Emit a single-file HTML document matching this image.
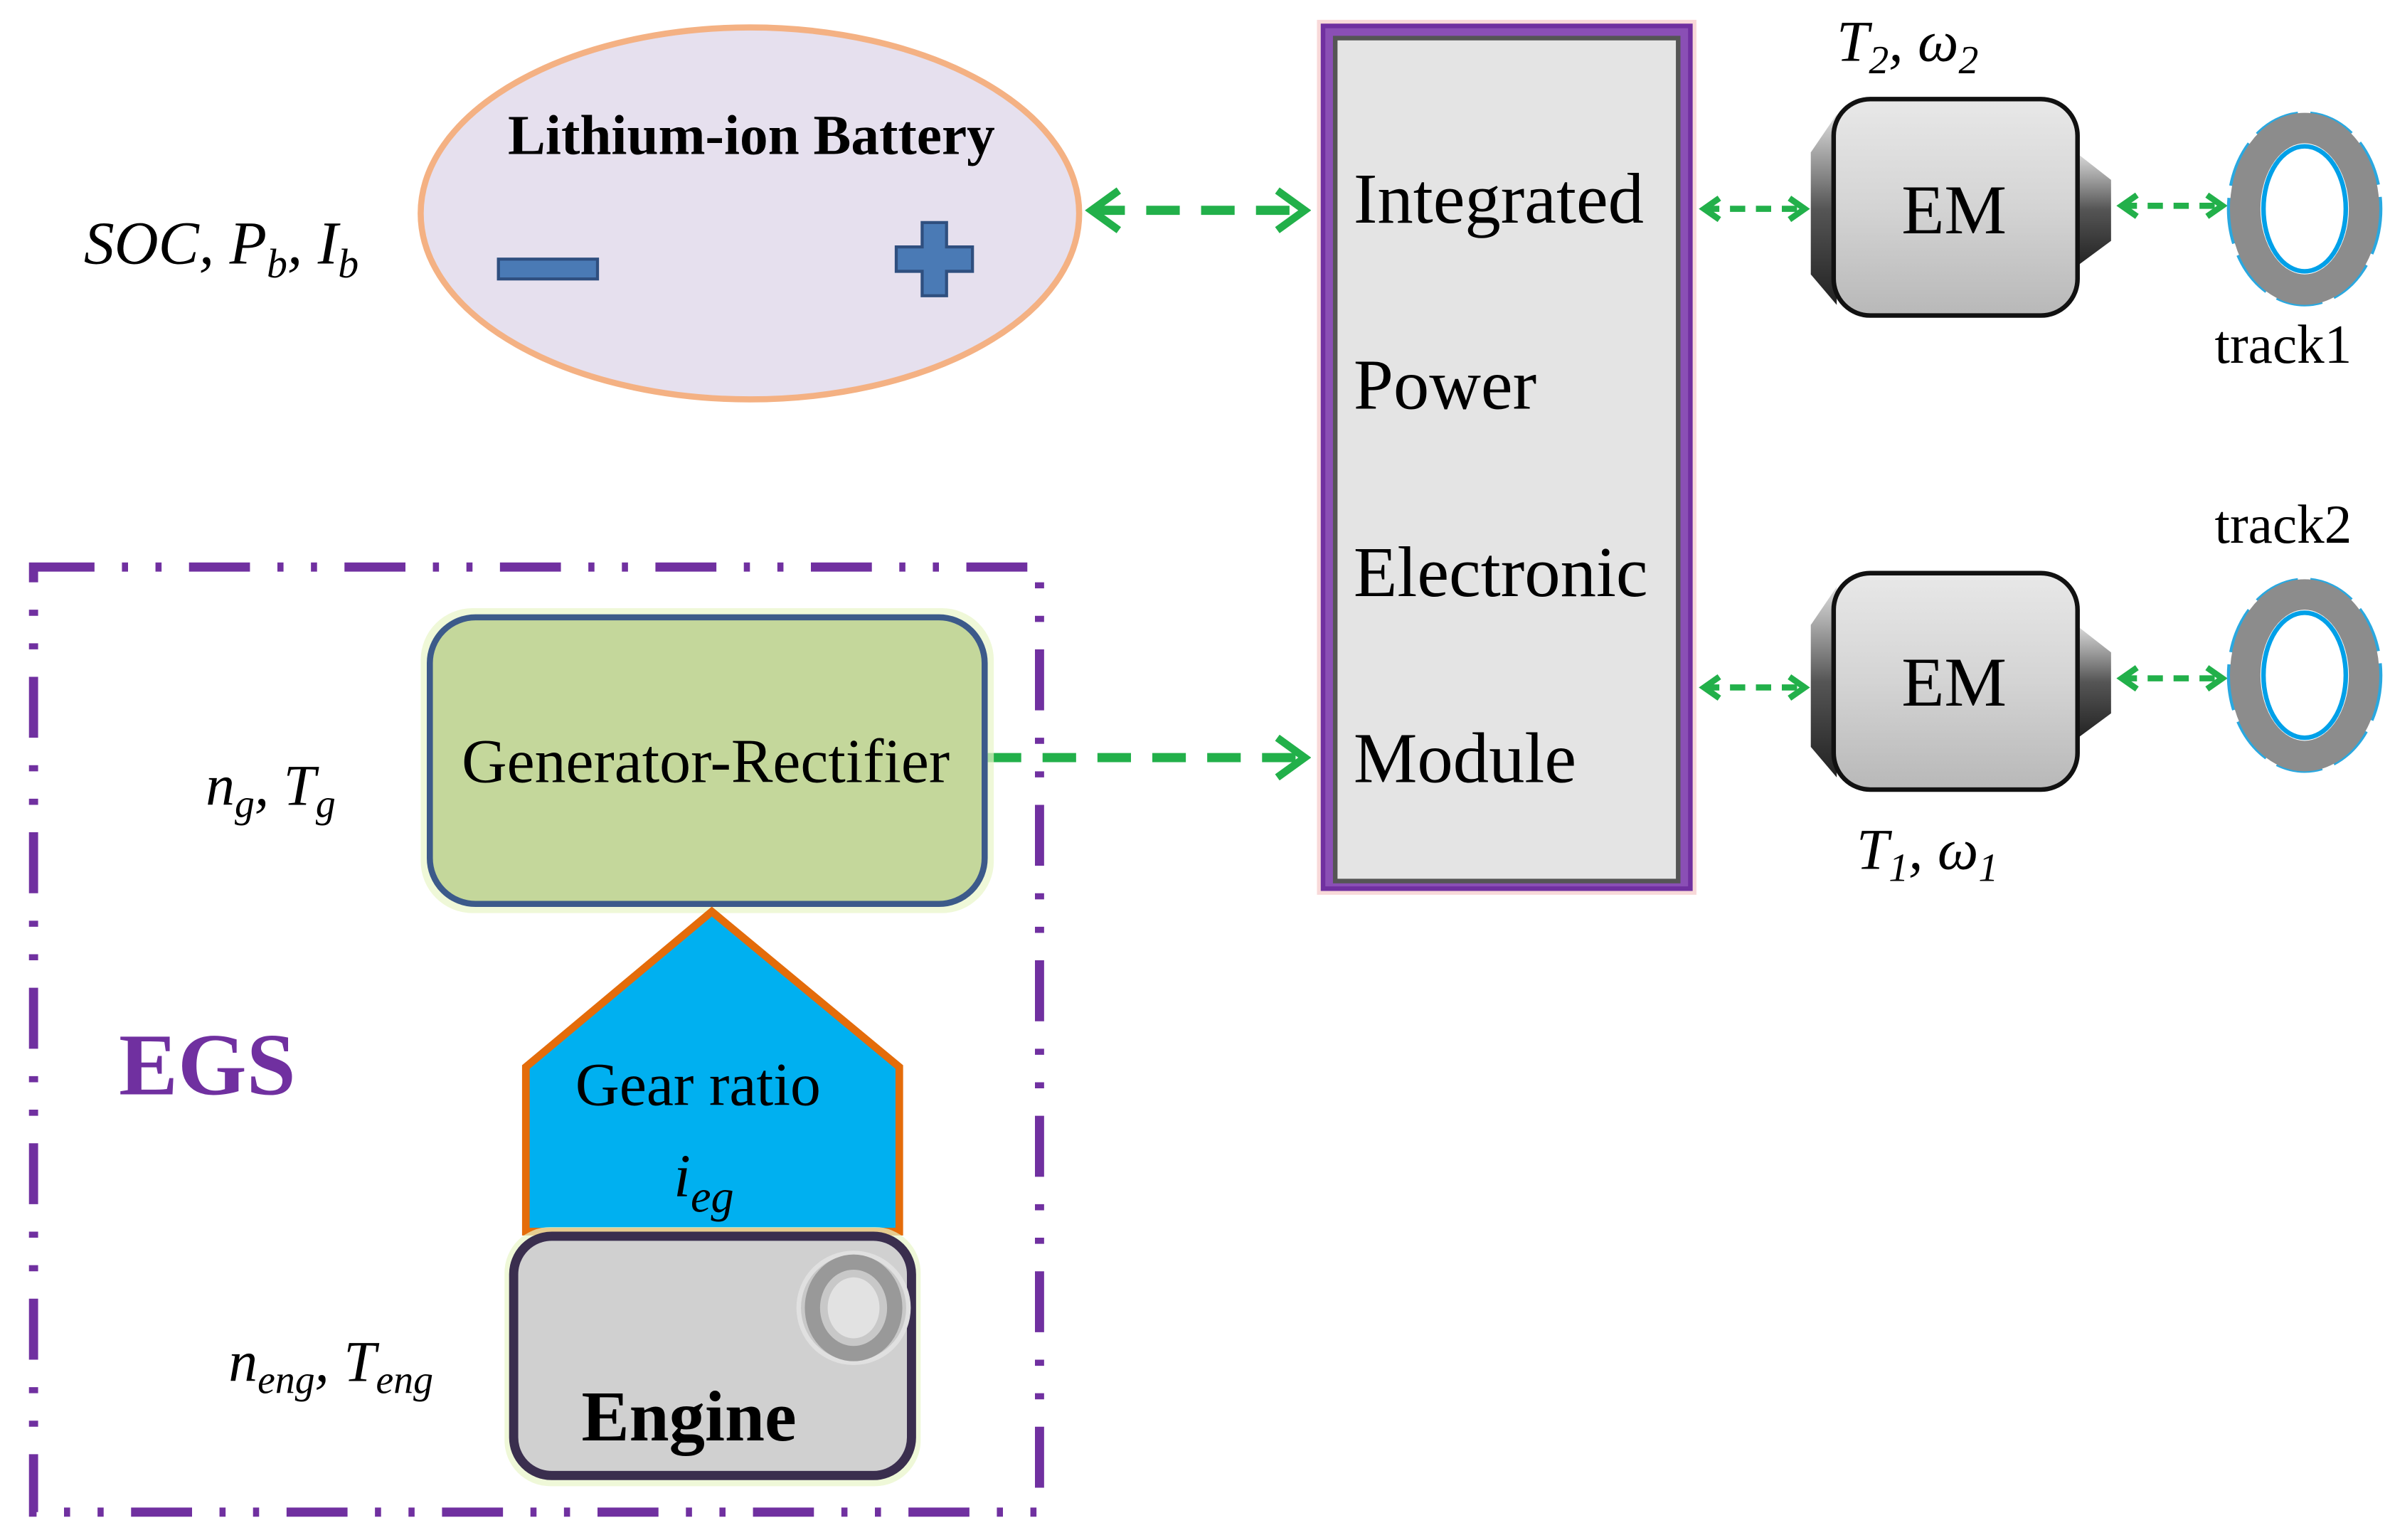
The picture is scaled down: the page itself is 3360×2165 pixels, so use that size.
<!DOCTYPE html>
<html><head><meta charset="utf-8"><style>
html,body{margin:0;padding:0;background:#fff;}
svg{display:block;width:3360px;height:2165px;}
text{font-family:"Liberation Serif",serif;}
</style></head><body>
<svg viewBox="0 0 1568 1010.3" preserveAspectRatio="none" xmlns="http://www.w3.org/2000/svg">
<defs>
<marker id="ah" markerWidth="16" markerHeight="18" refX="12" refY="9" orient="auto-start-reverse" markerUnits="userSpaceOnUse">
<path d="M2,2 L12,9 L2,16" fill="none" stroke="#22b04a" stroke-width="4"/>
</marker>
<marker id="ahB" markerWidth="24" markerHeight="30" refX="20" refY="15" orient="auto-start-reverse" markerUnits="userSpaceOnUse">
<path d="M2,2 L20,15 L2,28" fill="none" stroke="#22b04a" stroke-width="5"/>
</marker>
<linearGradient id="emg" x1="0" y1="0" x2="0" y2="1">
<stop offset="0" stop-color="#e8e8e8"/><stop offset="0.5" stop-color="#d4d4d4"/><stop offset="1" stop-color="#b8b8b8"/>
</linearGradient>
<linearGradient id="cone" x1="0" y1="0" x2="0" y2="1">
<stop offset="0" stop-color="#ddd"/><stop offset="0.5" stop-color="#555"/><stop offset="1" stop-color="#222"/>
</linearGradient>
</defs>

<ellipse cx="492" cy="140" rx="216" ry="122" fill="#e6e0ee" stroke="#f4b183" stroke-width="4"/>
<text x="493" y="101" font-size="37" font-weight="bold" text-anchor="middle">Lithium-ion  Battery</text>
<rect x="327" y="170" width="65" height="13" fill="#4a7ab5" stroke="#2f4f7f" stroke-width="2"/>
<path d="M605,146 h16 v16 h17 v16 h-17 v16 h-16 v-16 h-17 v-16 h17 z" fill="#4a7ab5" stroke="#2f4f7f" stroke-width="2"/>
<text x="55" y="173" font-size="40" font-style="italic">SOC, P<tspan font-size="27" dy="9">b</tspan><tspan dy="-9">, I</tspan><tspan font-size="27" dy="9">b</tspan></text>

<line x1="716" y1="138" x2="856" y2="138" stroke="#22b04a" stroke-width="6" stroke-dasharray="22,14" marker-start="url(#ahB)" marker-end="url(#ahB)"/>

<rect x="864" y="13" width="249" height="574" fill="#f4c0c0" opacity="0.6"/>
<rect x="868" y="17" width="241" height="566" fill="#8a4fb5" stroke="#7030a0" stroke-width="3"/>
<rect x="876" y="25" width="225" height="553" fill="#e4e4e4" stroke="#555" stroke-width="3"/>
<text x="888" y="146" font-size="47">Integrated</text>
<text x="888" y="268" font-size="47">Power</text>
<text x="888" y="391" font-size="47">Electronic</text>
<text x="888" y="513" font-size="47">Module</text>

<line x1="648" y1="497" x2="856" y2="497" stroke="#22b04a" stroke-width="6" stroke-dasharray="22,14" marker-end="url(#ahB)"/>

<g>
<path d="M1205,75 L1188,100 L1188,180 L1205,200 Z" fill="url(#cone)"/>
<path d="M1362,100 L1385,118 L1385,158 L1362,175 Z" fill="url(#cone)"/>
<rect x="1203" y="65" width="160" height="142" rx="24" fill="url(#emg)" stroke="#111" stroke-width="3"/>
<text x="1282" y="153" font-size="46" text-anchor="middle">EM</text>
</g>
<g>
<path d="M1205,385 L1188,410 L1188,490 L1205,510 Z" fill="url(#cone)"/>
<path d="M1362,410 L1385,428 L1385,468 L1362,485 Z" fill="url(#cone)"/>
<rect x="1203" y="376" width="160" height="142" rx="24" fill="url(#emg)" stroke="#111" stroke-width="3"/>
<text x="1282" y="463" font-size="46" text-anchor="middle">EM</text>
</g>

<line x1="1118" y1="137" x2="1184" y2="137" stroke="#22b04a" stroke-width="4" stroke-dasharray="10,7" marker-start="url(#ah)" marker-end="url(#ah)"/>
<line x1="1392" y1="135" x2="1458" y2="135" stroke="#22b04a" stroke-width="4" stroke-dasharray="10,7" marker-start="url(#ah)" marker-end="url(#ah)"/>
<line x1="1118" y1="451" x2="1184" y2="451" stroke="#22b04a" stroke-width="4" stroke-dasharray="10,7" marker-start="url(#ah)" marker-end="url(#ah)"/>
<line x1="1392" y1="445" x2="1458" y2="445" stroke="#22b04a" stroke-width="4" stroke-dasharray="10,7" marker-start="url(#ah)" marker-end="url(#ah)"/>

<g>
<ellipse cx="1512" cy="137" rx="49" ry="62" fill="none" stroke="#29a8e0" stroke-width="4" stroke-dasharray="30,8"/>
<ellipse cx="1512" cy="137" rx="39" ry="53" fill="none" stroke="#8c8c8c" stroke-width="20"/>
<ellipse cx="1512" cy="137" rx="27" ry="41" fill="none" stroke="#00a0e8" stroke-width="3"/>
</g>
<g>
<ellipse cx="1512" cy="443" rx="49" ry="62" fill="none" stroke="#29a8e0" stroke-width="4" stroke-dasharray="30,8"/>
<ellipse cx="1512" cy="443" rx="39" ry="53" fill="none" stroke="#8c8c8c" stroke-width="20"/>
<ellipse cx="1512" cy="443" rx="27" ry="41" fill="none" stroke="#00a0e8" stroke-width="3"/>
</g>

<text x="1205" y="40" font-size="38" font-style="italic">T<tspan font-size="26" dy="8">2</tspan><tspan dy="-8">, ω</tspan><tspan font-size="26" dy="8">2</tspan></text>
<text x="1218" y="570" font-size="38" font-style="italic">T<tspan font-size="26" dy="8">1</tspan><tspan dy="-8">, ω</tspan><tspan font-size="26" dy="8">1</tspan></text>
<text x="1453" y="238" font-size="36">track1</text>
<text x="1453" y="356" font-size="36">track2</text>

<rect x="22" y="372" width="660" height="620" fill="none" stroke="#7030a0" stroke-width="6" stroke-dasharray="40,18,4,18,4,18"/>
<text x="78" y="718" font-size="58" font-weight="bold" fill="#7030a0">EGS</text>

<rect x="276" y="399" width="376" height="200" rx="34" fill="#e8f5c8" opacity="0.7"/>
<rect x="282" y="405" width="364" height="188" rx="30" fill="#c4d79b" stroke="#3c5a8a" stroke-width="4"/>
<text x="463" y="513" font-size="41" text-anchor="middle">Generator-Rectifier</text>
<text x="135" y="528" font-size="38" font-style="italic">n<tspan font-size="26" dy="8">g</tspan><tspan dy="-8">, T</tspan><tspan font-size="26" dy="8">g</tspan></text>

<polygon points="467,598 590,700 590,808 345,808 345,700" fill="#00b0f0" stroke="#e46c0a" stroke-width="5"/>
<text x="458" y="725" font-size="40" text-anchor="middle">Gear ratio</text>
<text x="442" y="785" font-size="40" font-style="italic">i<tspan font-size="30" dy="10">eg</tspan></text>

<rect x="331" y="805" width="273" height="170" rx="30" fill="#e8f5c8" opacity="0.7"/>
<rect x="337" y="811" width="261" height="157" rx="25" fill="#d0d0d0" stroke="#3a2e4e" stroke-width="6"/>
<circle cx="560" cy="858" r="36" fill="#c8c8c8" stroke="#e0e0e0" stroke-width="3"/>
<ellipse cx="560" cy="858" rx="27" ry="30" fill="none" stroke="#999" stroke-width="10"/>
<ellipse cx="560" cy="858" rx="17" ry="20" fill="#e2e2e2"/>
<text x="452" y="945" font-size="47" font-weight="bold" text-anchor="middle">Engine</text>
<text x="150" y="906" font-size="38" font-style="italic">n<tspan font-size="26" dy="8">eng</tspan><tspan dy="-8">, T</tspan><tspan font-size="26" dy="8">eng</tspan></text>
</svg>
</body></html>
